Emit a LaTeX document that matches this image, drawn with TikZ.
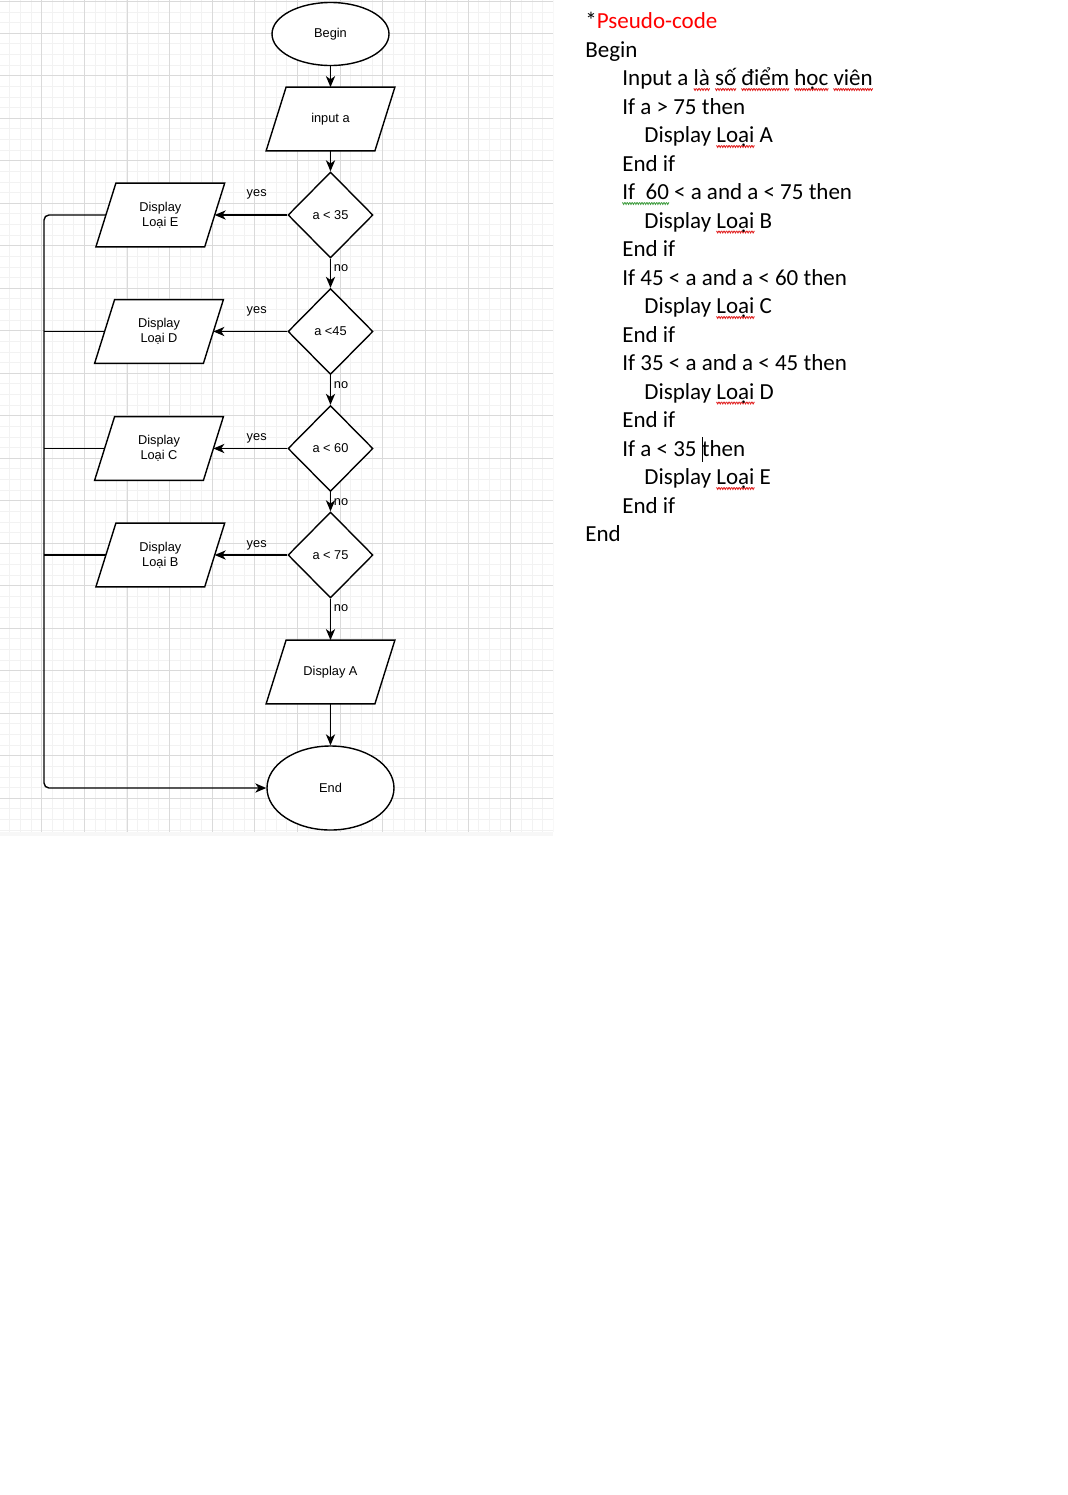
\documentclass[tikz,border=0pt]{standalone}
\usepackage{fontspec}
\usetikzlibrary{shapes.geometric,arrows.meta,positioning}
\newfontfamily\flowfont{Liberation Sans}
\newfontfamily\codefont{Carlito}
\newcommand\flowsize{\flowfont\fontsize{6.4}{7.5}\selectfont}
\newcommand\codesize{\codefont\fontsize{11.5}{14.25}\selectfont}
\definecolor{gridminor}{RGB}{242,242,242}
\definecolor{gridmajor}{RGB}{218,218,218}
\definecolor{spellred}{RGB}{225,35,35}
\definecolor{spellgreen}{RGB}{70,160,70}
\definecolor{pseudored}{RGB}{255,0,0}
\pgfdeclarelayer{paper}
\pgfdeclarelayer{shapes}
\pgfsetlayers{paper,shapes,main}
% spell-check squiggles and the text cursor
\newcommand\wavebit[1]{\tikz[baseline=0pt]{\useasboundingbox (0pt,0pt) rectangle (1.2pt,0.1pt);
  \draw[#1,line width=0.45pt] (0pt,-1.3pt) -- (0.6pt,-2.3pt) -- (1.2pt,-1.3pt);}}
\newsavebox\squigword
\newcommand\squig[2]{\sbox\squigword{#2}%
  \rlap{\hbox to \wd\squigword{\xleaders\hbox{\wavebit{#1}}\hfill}}\usebox\squigword}
\newcommand\redsquig[1]{\squig{spellred}{#1}}
\newcommand\greensquig[1]{\squig{spellgreen}{#1}}
\newcommand\caret{\rlap{\rule[-2.8pt]{0.55pt}{12.5pt}}}
\tikzset{
  terminal/.style={ellipse, draw, line width=0.7pt, inner sep=0pt, fill=white, font=\flowsize},
  io/.style={rectangle, minimum width=54pt, minimum height=31.5pt, inner sep=0pt,
    align=center, font=\flowsize},
  ioframe/.style={draw, line width=0.7pt, fill=white},
  decision/.style={diamond, draw, line width=0.7pt, minimum width=42.5pt,
    minimum height=43pt, inner sep=0pt, fill=white, font=\flowsize},
  flow/.style={line width=0.7pt, -{Stealth[length=5.5pt,width=4.6pt,inset=1.6pt]}},
  tag/.style={inner sep=0pt, font=\flowsize},
  codeline/.style={anchor=base west, inner sep=0pt, font=\codesize}
}
\begin{document}
\begin{tikzpicture}[x=0.5pt, y=-0.5pt]
\useasboundingbox (0,0) rectangle (1068,1495);

% Grid paper
\begin{pgfonlayer}{paper}
\fill[white] (0,0) rectangle (1068,1495);
\begin{scope}
\clip (0,0) rectangle (553,832);
\foreach \i in {0,...,52} {
    \draw[gridminor, line width=0.5pt] ({-0.96+10.6625*\i},0) -- ++(0,832);
}
\foreach \i in {0,...,79} {
    \draw[gridminor, line width=0.5pt] (0,{-9.2+10.625*\i}) -- ++(553,0);
}
\foreach \i in {0,...,13} {
    \draw[gridmajor, line width=0.5pt] ({-0.95+42.65*\i},0) -- ++(0,832);
}
\foreach \i in {0,...,19} {
    \draw[gridmajor, line width=0.5pt] (0,{-9.2+42.5*\i}) -- ++(553,0);
}
\draw[gridmajor, line width=0.5pt] (0,1.7) -- (553,1.7);
\end{scope}
\fill[gray!6] (0,832) rectangle (553,836);
\end{pgfonlayer}

% Flowchart nodes
\node[terminal, minimum width=58.5pt, minimum height=31.5pt] (begin) at (330.5,34) {Begin};
\node[io] (input) at (330.5,119) {input a};
\node[decision] (c35) at (330.5,215) {a < 35};
\node[decision] (c45) at (330.5,331.5) {a <45};
\node[decision] (c60) at (330.5,448.5) {a < 60};
\node[decision] (c75) at (330.5,555) {a < 75};
\node[io] (showE) at (160.3,215) {Display\\Loại E};
\node[io] (showD) at (159,331.5) {Display\\Loại D};
\node[io] (showC) at (159,448.5) {Display\\Loại C};
\node[io] (showB) at (160.3,555) {Display\\Loại B};
\node[io] (showA) at (330.5,672) {Display A};
\node[terminal, minimum width=63.5pt, minimum height=42pt] (finish) at (330.5,788) {End};

% Parallelogram outlines behind the io texts
\begin{pgfonlayer}{shapes}
\foreach \n in {input,showE,showD,showC,showB,showA} {
    \draw[ioframe] ([xshift=-5pt]\n.south west) -- ([xshift=-5pt]\n.south east)
        -- ([xshift=5pt]\n.north east) -- ([xshift=5pt]\n.north west) -- cycle;
}
\end{pgfonlayer}

% Main line
\draw[flow] (begin) -- (input);
\draw[flow] (input) -- (c35);
\draw[flow] (c35) -- (c45);
\draw[flow] (c45) -- (c60);
\draw[flow] (c60) -- (c75);
\draw[flow] (c75) -- (showA);
\draw[flow] (showA) -- (finish);

% Yes branches
\draw[flow] (c35.west) -- (showE.east);
\draw[flow] (c45.west) -- (showD.east);
\draw[flow] (c60.west) -- (showC.east);
\draw[flow] (c75.west) -- (showB.east);

% Return rail to End
\coordinate (railtop) at (44,215);
\coordinate (railbot) at (44,788);
\draw[flow, rounded corners=2.5pt] (showE.west) -- (railtop) -- (railbot) -- (finish.west);
\draw[line width=0.7pt] (showD.west) -- (showD.west -| railtop);
\draw[line width=0.7pt] (showC.west) -- (showC.west -| railtop);
\draw[line width=0.7pt] (showB.west) -- (showB.west -| railtop);

% Branch labels
\node[tag] (yesE) at (256.7,194) {yes};
\node[tag] (yesD) at (256.7,311) {yes};
\node[tag] (yesC) at (256.7,438) {yes};
\node[tag] (yesB) at (256.7,545) {yes};
\node[tag] (no35) at (341,268) {no};
\node[tag] (no45) at (341,385) {no};
\node[tag] (no60) at (341,502) {no};
\node[tag] (no75) at (341,608) {no};

% Pseudo-code
\node[codeline] (p0) at (585,28.8) {*\textcolor{pseudored}{Pseudo-code}};
\node[codeline] (p1) at (585,57.3) {Begin};
\node[codeline] (p2) at (622,85.8) {Input a \redsquig{là} \redsquig{số} \redsquig{điểm} \redsquig{học} \redsquig{viên}};
\node[codeline] (p3) at (622,114.3) {If a > 75 then};
\node[codeline] (p4) at (644,142.8) {Display \redsquig{Loại} A};
\node[codeline] (p5) at (622,171.3) {End if};
\node[codeline] (p6) at (622,199.8) {\greensquig{If\ \ 60} < a and a < 75 then};
\node[codeline] (p7) at (644,228.3) {Display \redsquig{Loại} B};
\node[codeline] (p8) at (622,256.8) {End if};
\node[codeline] (p9) at (622,285.3) {If 45 < a and a < 60 then};
\node[codeline] (p10) at (644,313.8) {Display \redsquig{Loại} C};
\node[codeline] (p11) at (622,342.3) {End if};
\node[codeline] (p12) at (622,370.8) {If 35 < a and a < 45 then};
\node[codeline] (p13) at (644,399.3) {Display \redsquig{Loại} D};
\node[codeline] (p14) at (622,427.8) {End if};
\node[codeline] (p15) at (622,456.3) {If a < 35 \caret then};
\node[codeline] (p16) at (644,484.8) {Display \redsquig{Loại} E};
\node[codeline] (p17) at (622,513.3) {End if};
\node[codeline] (p18) at (585,541.8) {End};
\end{tikzpicture}
\end{document}
